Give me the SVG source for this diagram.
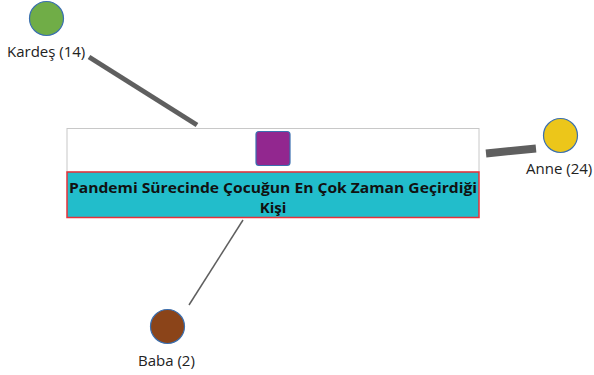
<svg xmlns="http://www.w3.org/2000/svg" width="594" height="375" viewBox="0 0 594 375">
<style>
.lbl{font-family:"Open Sans","Noto Sans","Liberation Sans",sans-serif;font-size:15px;fill:#222}
.title{font-family:"Open Sans","Noto Sans","Liberation Sans",sans-serif;font-size:15px;font-weight:bold;fill:#111;text-anchor:middle}
.dot{stroke:#3a6fb0;stroke-width:1.2}
.edge{stroke:#5f5f5f;fill:none}
</style>
<rect width="594" height="375" fill="#fff"/>
<g id="connectors">
<line class="edge" x1="89" y1="57" x2="197" y2="125" stroke-width="5"/>
<line class="edge" x1="486" y1="153.5" x2="536" y2="148.5" stroke-width="8"/>
<line class="edge" x1="243" y1="220" x2="189" y2="305" stroke-width="1.5"/>
</g>
<g id="center">
<rect x="67" y="128.5" width="412" height="43.5" fill="#fff" stroke="#c8c8c8" stroke-width="1"/>
<rect x="256" y="131.5" width="34" height="34" rx="3" fill="#92278f" class="dot"/>
<rect x="67" y="172" width="412" height="45.5" fill="#22bdcb" stroke="#e8313a" stroke-width="1.5"/>
<text class="title" x="273" y="192.5" textLength="408" lengthAdjust="spacingAndGlyphs">Pandemi Sürecinde Çocuğun En Çok Zaman Geçirdiği</text>
<text class="title" x="273" y="213">Kişi</text>
</g>
<g id="kardes">
<circle class="dot" cx="46.5" cy="18.5" r="17" fill="#70ad47"/>
<text class="lbl" x="7" y="57">Kardeş (14)</text>
</g>
<g id="anne">
<circle class="dot" cx="560.5" cy="135.5" r="17" fill="#ecc61a"/>
<text class="lbl" x="526" y="174">Anne (24)</text>
</g>
<g id="baba">
<circle class="dot" cx="167.5" cy="326.5" r="17" fill="#8b4419"/>
<text class="lbl" x="138" y="366">Baba (2)</text>
</g>
</svg>
